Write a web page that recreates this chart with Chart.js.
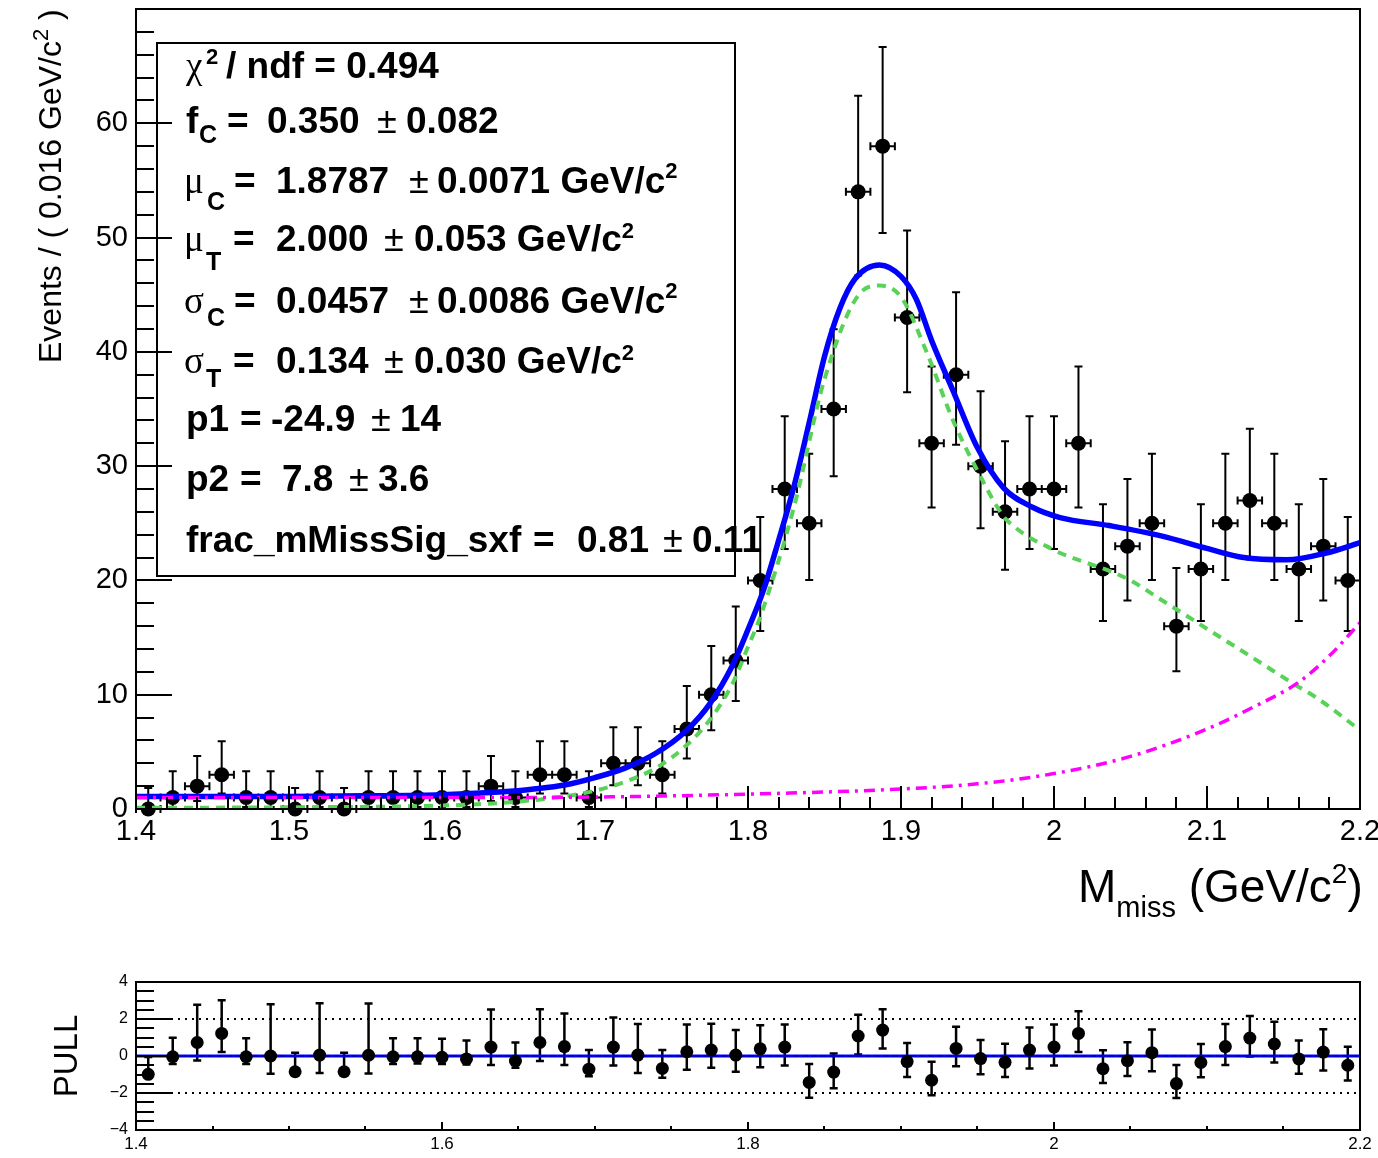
<!DOCTYPE html>
<html><head><meta charset="utf-8">
<script src="https://cdn.jsdelivr.net/npm/chart.js@4.4.1/dist/chart.umd.min.js"></script>
<style>
html,body{margin:0;padding:0;background:#fff;}
#wrap{position:relative;width:1378px;height:1158px;overflow:hidden;background:#fff;}
canvas{position:absolute;left:0;}
#main{top:0;width:1378px;height:945px;}
#pull{top:960px;width:1378px;height:198px;}
</style></head><body>
<div id="wrap"><canvas id="main" width="1378" height="945"></canvas><canvas id="pull" width="1378" height="198"></canvas></div>
<script>
// ---------------- DATA ----------------
const binCenters = [1.408,1.424,1.440,1.456,1.472,1.488,1.504,1.520,1.536,1.552,
  1.568,1.584,1.600,1.616,1.632,1.648,1.664,1.680,1.696,1.712,
  1.728,1.744,1.760,1.776,1.792,1.808,1.824,1.840,1.856,1.872,
  1.888,1.904,1.920,1.936,1.952,1.968,1.984,2.000,2.016,2.032,
  2.048,2.064,2.080,2.096,2.112,2.128,2.144,2.160,2.176,2.192];
const binHalfWidth = 0.008;
const counts = [0,1,2,3,1,1,0,1,0,1,
  1,1,1,1,2,1,3,3,1,4,
  4,3,7,10,13,20,28,25,35,54,
  58,43,32,38,30,26,28,28,32,21,
  23,25,16,21,25,27,25,21,23,20];
const countErrLo = [0,0.827,1.292,1.633,0.827,0.827,0,0.827,0,0.827,
  0.827,0.827,0.827,0.827,1.292,0.827,1.633,1.633,0.827,1.914,
  1.914,1.633,2.581,3.109,3.554,4.431,5.256,4.963,5.884,7.323,
  7.592,6.529,5.624,6.135,5.443,5.062,5.256,5.256,5.624,4.542,
  4.757,4.963,3.954,4.542,4.963,5.161,4.963,4.542,4.757,4.431];
const countErrHi = [1.841,2.300,2.638,2.918,2.300,2.300,1.841,2.300,1.841,2.300,
  2.300,2.300,2.300,2.300,2.638,2.300,2.918,2.918,2.300,3.163,
  3.163,2.918,3.770,4.270,4.708,5.555,6.362,6.074,6.979,8.399,
  8.665,7.614,6.723,7.225,6.545,6.172,6.362,6.362,6.723,5.664,
  5.873,6.074,5.093,5.664,6.074,6.268,6.074,5.664,5.873,5.555];

// fit curves
const totalX = [1.40,1.45,1.50,1.55,1.60,1.64,1.66,1.68,1.70,1.72,1.74,1.76,1.775,1.79,1.80,1.81,1.82,1.83,1.84,1.85,1.86,1.87,1.886,1.90,1.91,1.92,1.934,1.95,1.967,1.986,2.004,2.036,2.07,2.10,2.124,2.152,2.178,2.20];
const totalY = [1.1,1.1,1.1,1.15,1.25,1.5,1.75,2.1,2.75,3.6,4.9,6.9,9.2,12.6,15.7,19.1,23.5,28.2,33.8,39.6,43.8,46.4,47.6,46.6,44.6,41.0,36.6,31.6,28.1,26.4,25.5,24.8,23.9,22.8,22.0,21.8,22.4,23.3];
const sigX = [1.40,1.50,1.60,1.64,1.68,1.70,1.72,1.74,1.76,1.775,1.79,1.80,1.808,1.83,1.85,1.873,1.886,1.90,1.917,1.934,1.95,1.967,1.975,1.986,1.995,2.004,2.02,2.037,2.05,2.069,2.102,2.135,2.156,2.172,2.20];
const sigY = [0.1,0.15,0.3,0.55,1.1,1.6,2.4,3.6,5.6,7.8,11.0,14.2,16.8,26.4,37.6,45.1,45.8,44.8,39.9,34.0,29.6,25.6,24.6,23.6,23.0,22.4,21.6,20.8,20.0,18.4,15.6,12.8,11.0,9.7,6.9];
const bkgX = [1.40,1.50,1.60,1.70,1.80,1.90,1.95,2.00,2.05,2.10,2.13,2.16,2.18,2.20];
const bkgY = [1.0,1.0,1.0,1.05,1.3,1.75,2.2,3.1,4.6,7.0,8.9,11.1,13.4,16.3];

// pulls
const pulls = [-0.99,-0.04,0.73,1.22,-0.04,0.0,-0.85,0.05,-0.85,0.04,
  -0.04,-0.04,-0.07,-0.16,0.48,-0.27,0.73,0.51,-0.71,0.48,
  0.05,-0.67,0.23,0.32,0.05,0.39,0.48,-1.43,-0.87,1.08,
  1.40,-0.30,-1.31,0.41,-0.14,-0.34,0.32,0.48,1.22,-0.69,
  -0.25,0.18,-1.49,-0.35,0.51,0.97,0.65,-0.16,0.21,-0.50];
const pullErrHi = [0.93,1.03,2.04,1.80,1.0,2.80,1.03,2.80,1.03,2.80,
  1.0,1.0,1.0,1.0,2.04,1.0,1.80,1.79,1.03,1.60,
  1.68,1.0,1.47,1.42,1.36,1.27,1.22,1.0,1.0,1.15,
  1.13,1.0,1.0,1.17,1.0,1.0,1.22,1.22,1.20,1.0,
  1.0,1.25,1.0,1.0,1.22,1.19,1.20,1.0,1.24,1.0];
const pullErrLo = [0,0.39,0.97,1.0,0.39,0.96,0,0.97,0,0.98,
  0.39,0.36,0.36,0.30,0.97,0.37,1.0,1.0,0.39,1.0,
  0.97,0.50,0.97,0.96,0.90,1.0,1.0,0.83,0.87,1.0,
  1.0,0.83,0.81,0.97,0.85,0.80,1.0,1.0,1.0,0.77,
  0.83,1.0,0.78,0.80,1.0,1.0,1.0,0.80,1.0,0.82];
const pullRefLevels = [2,-2];

// ticks
const xTickValues = [1.4,1.5,1.6,1.7,1.8,1.9,2.0,2.1,2.2];
const yTickValues = [0,10,20,30,40,50,60];
const pullXTickValues = [1.4,1.6,1.8,2.0,2.2];
const pullYTickValues = [-4,-2,0,2,4];
const pullYTickLabels = ['\u22124','\u22122','0','2','4'];

// ---------------- STYLE ----------------
const SANS = '"Liberation Sans", Arial, Helvetica, sans-serif';
const SERIF = '"Liberation Serif", "DejaVu Serif", serif';
Chart.defaults.font.family = SANS;
Chart.defaults.color = '#000';
const fmt = v => String(+(+v).toFixed(3));

function tickList(min, max, step, len) {
  const out = []; const n = Math.round((max - min) / step);
  for (let i = 0; i <= n; i++) out.push([min + i * step, len]);
  return out;
}
function axesPlugin(cfg) {
  return { id: 'rootAxes', afterDraw(chart) {
    const {ctx, chartArea: a} = chart; const xs = chart.scales.x, ys = chart.scales.y;
    ctx.save(); ctx.strokeStyle = '#000'; ctx.lineWidth = 2;
    ctx.beginPath();
    for (const [v, len] of cfg.xTicks) { const p = Math.round(xs.getPixelForValue(v)); ctx.moveTo(p, a.bottom); ctx.lineTo(p, a.bottom - len); }
    for (const [v, len] of cfg.yTicks) { const p = Math.round(ys.getPixelForValue(v)); ctx.moveTo(a.left, p); ctx.lineTo(a.left + len, p); }
    ctx.stroke();
    ctx.strokeRect(a.left, a.top, a.right - a.left, a.bottom - a.top);
    if (cfg.extra) cfg.extra(chart);
    ctx.restore();
  }};
}
function drawRich(ctx, x0, y, segs) {
  let cx = x0;
  for (const s of segs) {
    const [t, x, f, dy] = s;
    if (x !== null && x !== undefined) cx = x;
    ctx.font = f;
    ctx.fillText(t, cx, y + (dy || 0));
    cx += ctx.measureText(t).width;
  }
}

// ---------------- MAIN CHART ----------------
const B = 'bold 37px ' + SANS, SUB = 'bold 25px ' + SANS, SUP = 'bold 22px ' + SANS;
const G = '37px ' + SERIF, PM = '36px ' + SANS;
const paramRows = [
 [78,  [['\u03C7',186,G],['2',206,SUP,-14],['/ ndf = 0.494',226,B]]],
 [133, [['f',186,B],['C',199,SUB,10],['=',227,B],['0.350',267,B],['\u00B1',377,PM],['0.082',406,B]]],
 [193, [['\u03BC',184,G],['C',207,SUB,17],['=',234,B],['1.8787',276,B],['\u00B1',409,PM],['0.0071 GeV/c',437,B],['2',null,SUP,-15]]],
 [251, [['\u03BC',184,G],['T',206,SUB,19],['=',233,B],['2.000',276,B],['\u00B1',384,PM],['0.053 GeV/c',414,B],['2',null,SUP,-13]]],
 [313, [['\u03C3',184,G],['C',207,SUB,13],['=',234,B],['0.0457',276,B],['\u00B1',409,PM],['0.0086 GeV/c',437,B],['2',null,SUP,-15]]],
 [373, [['\u03C3',184,G],['T',206,SUB,14],['=',233,B],['0.134',276,B],['\u00B1',384,PM],['0.030 GeV/c',414,B],['2',null,SUP,-13]]],
 [431, [['p1',186,B],['=',240,B],['-24.9',271,B],['\u00B1',371,PM],['14',400,B]]],
 [491, [['p2',186,B],['=',240,B],['7.8',282,B],['\u00B1',349,PM],['3.6',378,B]]],
 [552, [['frac_mMissSig_sxf',186,B],['=',533,B],['0.81',577,B],['\u00B1',663,PM],['0.11',692,B]]]
];

const mainErrPlugin = { id: 'mainErr', beforeDatasetsDraw(chart) {
  const {ctx} = chart; const xs = chart.scales.x, ys = chart.scales.y;
  ctx.save(); ctx.strokeStyle = '#000'; ctx.lineWidth = 2; ctx.beginPath();
  const cap = 4;
  for (let i = 0; i < counts.length; i++) {
    const px = xs.getPixelForValue(binCenters[i]), py = ys.getPixelForValue(counts[i]);
    const yt = ys.getPixelForValue(counts[i] + countErrHi[i]);
    const yb = ys.getPixelForValue(counts[i] - countErrLo[i]);
    const xl = xs.getPixelForValue(binCenters[i] - binHalfWidth);
    const xr = xs.getPixelForValue(binCenters[i] + binHalfWidth);
    ctx.moveTo(px, yt); ctx.lineTo(px, yb);
    if (countErrHi[i] > 0) { ctx.moveTo(px - cap, yt); ctx.lineTo(px + cap, yt); }
    if (countErrLo[i] > 0) { ctx.moveTo(px - cap, yb); ctx.lineTo(px + cap, yb); }
    ctx.moveTo(xl, py); ctx.lineTo(xr, py);
    ctx.moveTo(xl, py - cap); ctx.lineTo(xl, py + cap);
    ctx.moveTo(xr, py - cap); ctx.lineTo(xr, py + cap);
  }
  ctx.stroke(); ctx.restore();
}};

const paramBoxPlugin = { id: 'paramBox', afterDatasetsDraw(chart) {
  const {ctx} = chart;
  ctx.save();
  ctx.fillStyle = '#fff'; ctx.fillRect(157, 43, 578, 533);
  ctx.strokeStyle = '#000'; ctx.lineWidth = 2; ctx.strokeRect(157, 43, 578, 533);
  ctx.fillStyle = '#000'; ctx.textBaseline = 'alphabetic'; ctx.textAlign = 'left';
  for (const [y, segs] of paramRows) drawRich(ctx, 186, y, segs);
  ctx.restore();
}};

function mainTitles(chart) {
  const ctx = chart.ctx;
  ctx.fillStyle = '#000'; ctx.textBaseline = 'alphabetic'; ctx.textAlign = 'left';
  // x title
  drawRich(ctx, 1078, 902, [['M',1078,'46px ' + SANS],['miss',null,'29px ' + SANS,15],[' (GeV/c',null,'46px ' + SANS],['2',null,'28px ' + SANS,-19],[')',null,'46px ' + SANS]]);
  // y title
  ctx.save();
  ctx.translate(61, 363); ctx.rotate(-Math.PI / 2);
  drawRich(ctx, 0, 0, [['Events / ( 0.016 GeV/c',0,'32px ' + SANS],['2',null,'22px ' + SANS,-13],[' )',null,'32px ' + SANS]]);
  ctx.restore();
}

new Chart(document.getElementById('main'), {
  type: 'scatter',
  data: { datasets: [
    { type: 'line', label: 'background', data: bkgX.map((x, i) => ({x, y: bkgY[i]})), borderColor: '#ff00ff', borderWidth: 3.5, borderDash: [11, 6, 3, 6], pointRadius: 0, cubicInterpolationMode: 'monotone', fill: false, order: 0 },
    { type: 'line', label: 'signal', data: sigX.map((x, i) => ({x, y: sigY[i]})), borderColor: '#5ad25a', borderWidth: 4, borderDash: [9, 7], pointRadius: 0, cubicInterpolationMode: 'monotone', fill: false, order: 1 },
    { type: 'line', label: 'total', data: totalX.map((x, i) => ({x, y: totalY[i]})), borderColor: '#0000ff', borderWidth: 5.5, pointRadius: 0, cubicInterpolationMode: 'monotone', fill: false, order: 2 },
    { type: 'scatter', label: 'data', data: binCenters.map((x, i) => ({x, y: counts[i]})), pointRadius: 7.5, pointBackgroundColor: '#000', pointBorderWidth: 0, clip: false, order: 3 }
  ]},
  options: {
    responsive: false, animation: false, events: [], devicePixelRatio: 1,
    layout: { padding: { left: 0, right: 18, top: 9, bottom: 0 } },
    plugins: { legend: { display: false }, tooltip: { enabled: false } },
    scales: {
      x: { type: 'linear', min: 1.4, max: 2.2,
        grid: { display: false, drawTicks: false }, border: { display: false },
        ticks: { autoSkip: false, maxRotation: 0, padding: 6, font: { size: 29 }, color: '#000', callback: v => fmt(v) },
        afterBuildTicks: s => { s.ticks = xTickValues.map(v => ({value: v})); },
        afterFit: s => { s.height = 136; s.paddingLeft = 0; s.paddingRight = 0; } },
      y: { type: 'linear', min: 0, max: 70,
        grid: { display: false, drawTicks: false }, border: { display: false },
        ticks: { autoSkip: false, padding: 8, font: { size: 29 }, color: '#000', callback: v => fmt(v) },
        afterBuildTicks: s => { s.ticks = yTickValues.map(v => ({value: v})); },
        afterFit: s => { s.width = 136; s.paddingTop = 0; s.paddingBottom = 0; } }
    }
  },
  plugins: [mainErrPlugin, paramBoxPlugin, axesPlugin({
    xTicks: tickList(1.4, 2.2, 0.02, 12).concat(tickList(1.4, 2.2, 0.1, 23)),
    yTicks: tickList(0, 70, 2, 18).concat(tickList(0, 60, 10, 36)),
    extra: mainTitles
  })]
});

// ---------------- PULL CHART ----------------
const pullErrPlugin = { id: 'pullErr', beforeDatasetsDraw(chart) {
  const {ctx} = chart; const xs = chart.scales.x, ys = chart.scales.y;
  ctx.save(); ctx.strokeStyle = '#000'; ctx.lineWidth = 2.5; ctx.beginPath();
  const cap = 4;
  for (let i = 0; i < pulls.length; i++) {
    const px = xs.getPixelForValue(binCenters[i]);
    const yt = ys.getPixelForValue(pulls[i] + pullErrHi[i]);
    const yb = ys.getPixelForValue(pulls[i] - pullErrLo[i]);
    ctx.moveTo(px, yt); ctx.lineTo(px, yb);
    if (pullErrHi[i] > 0) { ctx.moveTo(px - cap, yt); ctx.lineTo(px + cap, yt); }
    if (pullErrLo[i] > 0) { ctx.moveTo(px - cap, yb); ctx.lineTo(px + cap, yb); }
  }
  ctx.stroke(); ctx.restore();
}};
function pullTitle(chart) {
  const ctx = chart.ctx;
  ctx.save(); ctx.fillStyle = '#000'; ctx.textAlign = 'center'; ctx.textBaseline = 'alphabetic';
  ctx.translate(77, 96); ctx.rotate(-Math.PI / 2);
  ctx.font = '33px ' + SANS; ctx.fillText('PULL', 0, 0);
  ctx.restore();
}

new Chart(document.getElementById('pull'), {
  type: 'scatter',
  data: { datasets: [
    { type: 'scatter', label: 'pull', data: binCenters.map((x, i) => ({x, y: pulls[i]})), pointRadius: 6.5, pointBackgroundColor: '#000', pointBorderWidth: 0, clip: false, order: 0 },
    { type: 'line', label: 'zeroDash', data: [{x: 1.4, y: 0}, {x: 2.2, y: 0}], borderColor: '#000080', borderWidth: 1, borderDash: [6, 3], pointRadius: 0, order: 1 },
    { type: 'line', label: 'zero', data: [{x: 1.4, y: 0}, {x: 2.2, y: 0}], borderColor: '#0000ff', borderWidth: 3, pointRadius: 0, order: 2 },
    ...pullRefLevels.map((lv, k) => ({ type: 'line', label: 'ref' + k, data: [{x: 1.4, y: lv}, {x: 2.2, y: lv}], borderColor: '#000', borderWidth: 2, borderDash: [2, 5], pointRadius: 0, order: 3 }))
  ]},
  options: {
    responsive: false, animation: false, events: [], devicePixelRatio: 1,
    layout: { padding: { left: 0, right: 18, top: 22, bottom: 0 } },
    plugins: { legend: { display: false }, tooltip: { enabled: false } },
    scales: {
      x: { type: 'linear', min: 1.4, max: 2.2,
        grid: { display: false, drawTicks: false }, border: { display: false },
        ticks: { autoSkip: false, maxRotation: 0, padding: 4, font: { size: 17 }, color: '#000', callback: v => fmt(v) },
        afterBuildTicks: s => { s.ticks = pullXTickValues.map(v => ({value: v})); },
        afterFit: s => { s.height = 28; s.paddingLeft = 0; s.paddingRight = 0; } },
      y: { type: 'linear', min: -4, max: 4,
        grid: { display: false, drawTicks: false }, border: { display: false },
        ticks: { autoSkip: false, padding: 8, font: { size: 16 }, color: '#000', callback: (v, i) => pullYTickLabels[i] },
        afterBuildTicks: s => { s.ticks = pullYTickValues.map(v => ({value: v})); },
        afterFit: s => { s.width = 136; s.paddingTop = 0; s.paddingBottom = 0; } }
    }
  },
  plugins: [pullErrPlugin, axesPlugin({
    xTicks: tickList(1.4, 2.2, 0.05, 4).concat(tickList(1.4, 2.2, 0.2, 8)),
    yTicks: tickList(-4, 4, 0.5, 18).concat(tickList(-4, 4, 2, 36)),
    extra: pullTitle
  })]
});
</script>
</body></html>
